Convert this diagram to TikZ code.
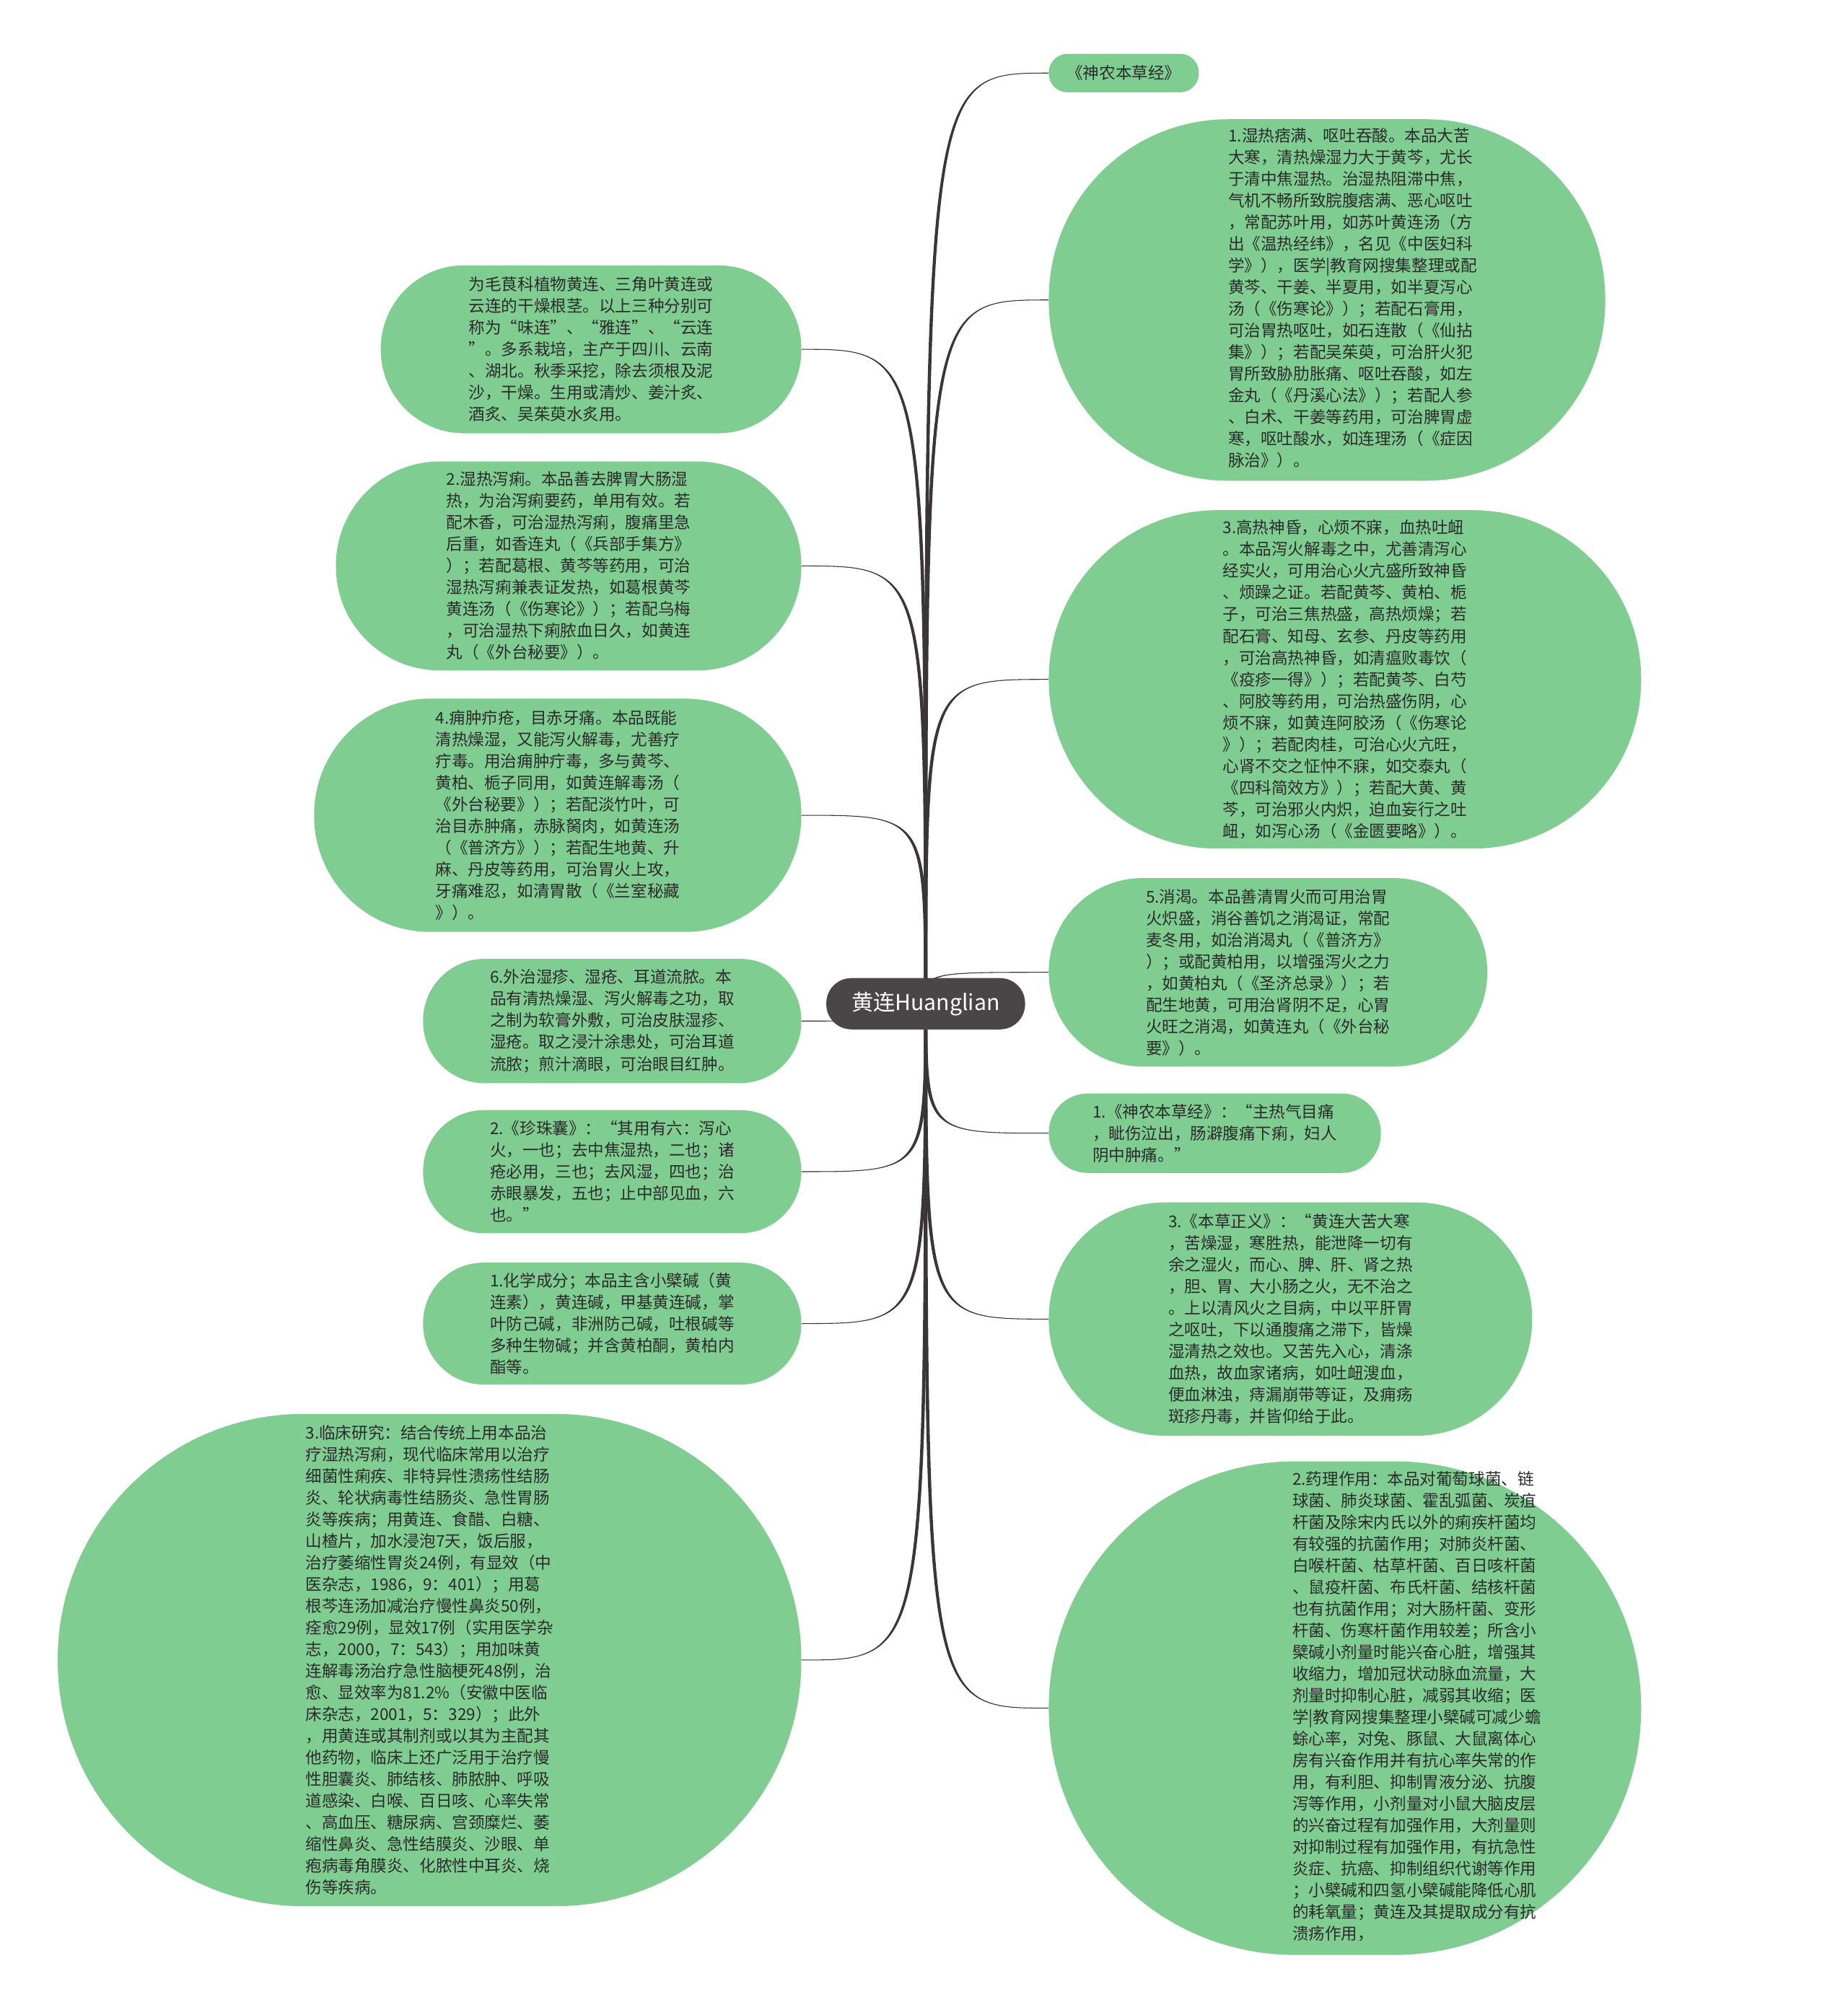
\documentclass[tikz,border=0pt]{standalone}
\usepackage{fontspec}
\newfontfamily\cjk{Noto Sans CJK SC}
\usetikzlibrary{calc,backgrounds}
\definecolor{leafgreen}{HTML}{7FCD91}
\definecolor{hubgray}{HTML}{4A4546}
\definecolor{linkgray}{HTML}{3A3637}
\definecolor{leaftext}{HTML}{2B2B2B}
\begin{document}
\begin{tikzpicture}[x=1pt, y=-1pt, line join=round, line cap=round,
	leaf/.style={fill=leafgreen, text=leaftext, align=left, inner sep=0pt, font=\cjk\fontsize{12.7}{16.9}\selectfont},
	root/.style={fill=hubgray, text=white, inner sep=0pt, minimum width=155pt, minimum height=40pt, rounded corners=19.5pt, font=\cjk\fontsize{17}{20}\selectfont}]
	\def\hw{1.3} % halbe Breite am Zentrum
	\def\branch#1{%
		\fill[linkgray] ($(huanglian.center)+(-\hw,0)$) .. controls ($(huanglian.center |- #1)+(-\hw,0)$) .. (#1)
			.. controls ($(huanglian.center |- #1)+(\hw,0)$) .. ($(huanglian.center)+(\hw,0)$) -- cycle;
		\draw[linkgray, line width=.6pt] (huanglian.center) .. controls (huanglian.center |- #1) .. (#1);}
	\useasboundingbox (0,0) rectangle (1441,1568);

	\node[root] (huanglian) at (722,783) {黄连Huanglian};

	% rechts
	\node[leaf, minimum width=117pt, minimum height=30pt, rounded corners=14.5pt] (benjing) at (876.5,57) {《神农本草经》};
	\node[leaf, minimum width=434pt, minimum height=282pt, rounded corners=140pt] (pimang) at (1035,234) {\hspace*{40pt}\begin{tabular}{@{}l@{}}
		1.湿热痞满、呕吐吞酸。本品大苦\\
		大寒，清热燥湿力大于黄芩，尤长\\
		于清中焦湿热。治湿热阻滞中焦，\\
		气机不畅所致脘腹痞满、恶心呕吐\\
		，常配苏叶用，如苏叶黄连汤（方\\
		出《温热经纬》，名见《中医妇科\\
		学》），医学|教育网搜集整理或配\\
		黄芩、干姜、半夏用，如半夏泻心\\
		汤（《伤寒论》）；若配石膏用，\\
		可治胃热呕吐，如石连散（《仙拈\\
		集》）；若配吴茱萸，可治肝火犯\\
		胃所致胁肋胀痛、呕吐吞酸，如左\\
		金丸（《丹溪心法》）；若配人参\\
		、白术、干姜等药用，可治脾胃虚\\
		寒，呕吐酸水，如连理汤（《症因\\
		脉治》）。\end{tabular}};
	\node[leaf, minimum width=462pt, minimum height=264pt, rounded corners=131.5pt] (shenhun) at (1049,530) {3.高热神昏，心烦不寐，血热吐衄\\
		。本品泻火解毒之中，尤善清泻心\\
		经实火，可用治心火亢盛所致神昏\\
		、烦躁之证。若配黄芩、黄柏、栀\\
		子，可治三焦热盛，高热烦燥；若\\
		配石膏、知母、玄参、丹皮等药用\\
		，可治高热神昏，如清瘟败毒饮（\\
		《疫疹一得》）；若配黄芩、白芍\\
		、阿胶等药用，可治热盛伤阴，心\\
		烦不寐，如黄连阿胶汤（《伤寒论\\
		》）；若配肉桂，可治心火亢旺，\\
		心肾不交之怔忡不寐，如交泰丸（\\
		《四科简效方》）；若配大黄、黄\\
		芩，可治邪火内炽，迫血妄行之吐\\
		衄，如泻心汤（《金匮要略》）。};
	\node[leaf, minimum width=342pt, minimum height=147pt, rounded corners=73pt] (xiaoke) at (989,758.5) {5.消渴。本品善清胃火而可用治胃\\
		火炽盛，消谷善饥之消渴证，常配\\
		麦冬用，如治消渴丸（《普济方》\\
		）；或配黄柏用，以增强泻火之力\\
		，如黄柏丸（《圣济总录》）；若\\
		配生地黄，可用治肾阴不足，心胃\\
		火旺之消渴，如黄连丸（《外台秘\\
		要》）。};
	\node[leaf, minimum width=259pt, minimum height=62pt, rounded corners=30.5pt] (shennong) at (947.5,884) {1.《神农本草经》：“主热气目痛\\
		，眦伤泣出，肠澼腹痛下痢，妇人\\
		阴中肿痛。”};
	\node[leaf, minimum width=377pt, minimum height=182pt, rounded corners=90.5pt] (zhengyi) at (1006.5,1029) {3.《本草正义》：“黄连大苦大寒\\
		，苦燥湿，寒胜热，能泄降一切有\\
		余之湿火，而心、脾、肝、肾之热\\
		，胆、胃、大小肠之火，无不治之\\
		。上以清风火之目病，中以平肝胃\\
		之呕吐，下以通腹痛之滞下，皆燥\\
		湿清热之效也。又苦先入心，清涤\\
		血热，故血家诸病，如吐衄溲血，\\
		便血淋浊，痔漏崩带等证，及痈疡\\
		斑疹丹毒，并皆仰给于此。};
	\node[leaf, minimum width=462pt, minimum height=385pt, rounded corners=192pt] (yaoli) at (1049,1332.5) {\hspace*{112pt}\begin{tabular}{@{}l@{}}
		2.药理作用：本品对葡萄球菌、链\\
		球菌、肺炎球菌、霍乱弧菌、炭疽\\
		杆菌及除宋内氏以外的痢疾杆菌均\\
		有较强的抗菌作用；对肺炎杆菌、\\
		白喉杆菌、枯草杆菌、百日咳杆菌\\
		、鼠疫杆菌、布氏杆菌、结核杆菌\\
		也有抗菌作用；对大肠杆菌、变形\\
		杆菌、伤寒杆菌作用较差；所含小\\
		檗碱小剂量时能兴奋心脏，增强其\\
		收缩力，增加冠状动脉血流量，大\\
		剂量时抑制心脏，减弱其收缩；医\\
		学|教育网搜集整理小檗碱可减少蟾\\
		蜍心率，对兔、豚鼠、大鼠离体心\\
		房有兴奋作用并有抗心率失常的作\\
		用，有利胆、抑制胃液分泌、抗腹\\
		泻等作用，小剂量对小鼠大脑皮层\\
		的兴奋过程有加强作用，大剂量则\\
		对抑制过程有加强作用，有抗急性\\
		炎症、抗癌、抑制组织代谢等作用\\
		；小檗碱和四氢小檗碱能降低心肌\\
		的耗氧量；黄连及其提取成分有抗\\
		溃疡作用，\end{tabular}};

	% links
	\node[leaf, minimum width=328pt, minimum height=131pt, rounded corners=65pt] (laiyuan) at (461,272.5) {为毛茛科植物黄连、三角叶黄连或\\
		云连的干燥根茎。以上三种分别可\\
		称为“味连”、“雅连”、“云连\\
		”。多系栽培，主产于四川、云南\\
		、湖北。秋季采挖，除去须根及泥\\
		沙，干燥。生用或清炒、姜汁炙、\\
		酒炙、吴茱萸水炙用。};
	\node[leaf, minimum width=363pt, minimum height=163pt, rounded corners=81pt] (xieli) at (443.5,441.5) {2.湿热泻痢。本品善去脾胃大肠湿\\
		热，为治泻痢要药，单用有效。若\\
		配木香，可治湿热泻痢，腹痛里急\\
		后重，如香连丸（《兵部手集方》\\
		）；若配葛根、黄芩等药用，可治\\
		湿热泻痢兼表证发热，如葛根黄芩\\
		黄连汤（《伤寒论》）；若配乌梅\\
		，可治湿热下痢脓血日久，如黄连\\
		丸（《外台秘要》）。};
	\node[leaf, minimum width=380pt, minimum height=182pt, rounded corners=90.5pt] (yongzhong) at (435,636) {4.痈肿疖疮，目赤牙痛。本品既能\\
		清热燥湿，又能泻火解毒，尤善疗\\
		疔毒。用治痈肿疔毒，多与黄芩、\\
		黄柏、栀子同用，如黄连解毒汤（\\
		《外台秘要》）；若配淡竹叶，可\\
		治目赤肿痛，赤脉胬肉，如黄连汤\\
		（《普济方》）；若配生地黄、升\\
		麻、丹皮等药用，可治胃火上攻，\\
		牙痛难忍，如清胃散（《兰室秘藏\\
		》）。};
	\node[leaf, minimum width=295pt, minimum height=97pt, rounded corners=48pt] (waizhi) at (477.5,796.5) {6.外治湿疹、湿疮、耳道流脓。本\\
		品有清热燥湿、泻火解毒之功，取\\
		之制为软膏外敷，可治皮肤湿疹、\\
		湿疮。取之浸汁涂患处，可治耳道\\
		流脓；煎汁滴眼，可治眼目红肿。};
	\node[leaf, minimum width=295pt, minimum height=96pt, rounded corners=47.5pt] (zhenzhu) at (477.5,914) {2.《珍珠囊》：“其用有六：泻心\\
		火，一也；去中焦湿热，二也；诸\\
		疮必用，三也；去风湿，四也；治\\
		赤眼暴发，五也；止中部见血，六\\
		也。”};
	\node[leaf, minimum width=295pt, minimum height=95pt, rounded corners=47pt] (huaxue) at (477.5,1032.5) {1.化学成分；本品主含小檗碱（黄\\
		连素），黄连碱，甲基黄连碱，掌\\
		叶防己碱，非洲防己碱，吐根碱等\\
		多种生物碱；并含黄柏酮，黄柏内\\
		酯等。};
	\node[leaf, minimum width=580pt, minimum height=384pt, rounded corners=191.5pt] (linchuang) at (335,1295) {3.临床研究：结合传统上用本品治\\
		疗湿热泻痢，现代临床常用以治疗\\
		细菌性痢疾、非特异性溃疡性结肠\\
		炎、轮状病毒性结肠炎、急性胃肠\\
		炎等疾病；用黄连、食醋、白糖、\\
		山楂片，加水浸泡7天，饭后服，\\
		治疗萎缩性胃炎24例，有显效（中\\
		医杂志，1986，9：401）；用葛\\
		根芩连汤加减治疗慢性鼻炎50例，\\
		痊愈29例，显效17例（实用医学杂\\
		志，2000，7：543）；用加味黄\\
		连解毒汤治疗急性脑梗死48例，治\\
		愈、显效率为81.2\%（安徽中医临\\
		床杂志，2001，5：329）；此外\\
		，用黄连或其制剂或以其为主配其\\
		他药物，临床上还广泛用于治疗慢\\
		性胆囊炎、肺结核、肺脓肿、呼吸\\
		道感染、白喉、百日咳、心率失常\\
		、高血压、糖尿病、宫颈糜烂、萎\\
		缩性鼻炎、急性结膜炎、沙眼、单\\
		疱病毒角膜炎、化脓性中耳炎、烧\\
		伤等疾病。};

	\begin{scope}[on background layer]
		\fill[white] (0,0) rectangle (1441,1568);
		\branch{benjing.west} \branch{pimang.west} \branch{shenhun.west} \branch{xiaoke.west}
		\branch{shennong.west} \branch{zhengyi.west} \branch{yaoli.west}
		\branch{laiyuan.east} \branch{xieli.east} \branch{yongzhong.east} \branch{waizhi.east}
		\branch{zhenzhu.east} \branch{huaxue.east} \branch{linchuang.east}
	\end{scope}
\end{tikzpicture}
\end{document}
